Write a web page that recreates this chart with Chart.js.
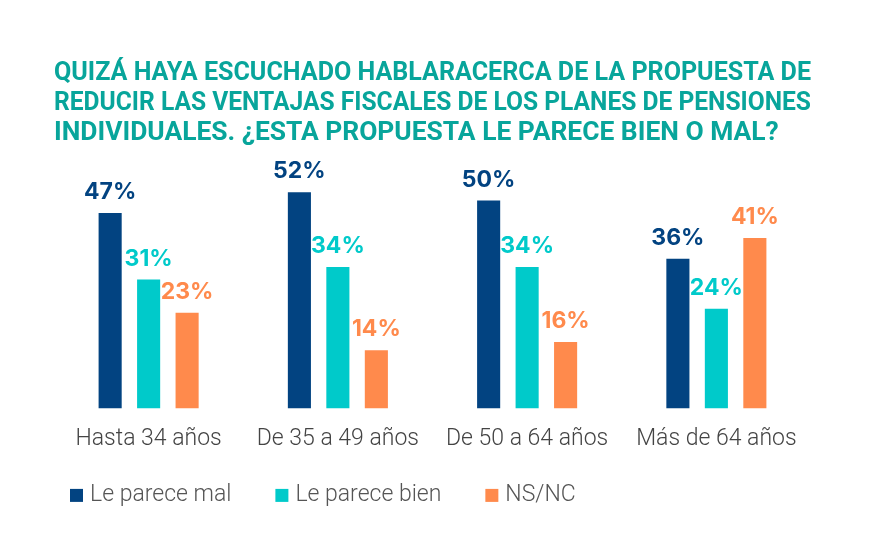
<!DOCTYPE html>
<html><head><meta charset="utf-8">
<script src="https://cdn.jsdelivr.net/npm/chart.js@4/dist/chart.umd.min.js"></script>
<style>html,body{margin:0;padding:0;background:#fff}#wrap{width:883px;height:554px}</style>
</head><body><div id="wrap"><canvas id="c"></canvas></div>
<script>
const titleLines = [
  "QUIZÁ HAYA ESCUCHADO HABLARACERCA DE LA PROPUESTA DE",
  "REDUCIR LAS VENTAJAS FISCALES DE LOS PLANES DE PENSIONES",
  "INDIVIDUALES. ¿ESTA PROPUESTA LE PARECE BIEN O MAL?"
];
const categories = ["Hasta 34 años", "De 35 a 49 años", "De 50 a 64 años", "Más de 64 años"];
const seriesNames = ["Le parece mal", "Le parece bien", "NS/NC"];
const parecemal = [47, 52, 50, 36];
const parecebien = [31, 34, 34, 24];
const nsnc = [23, 14, 16, 41];
const colors = ["#024381", "#00CACA", "#FF8A4C"];

const labelPlugin = {
  id: 'barLabels',
  afterDatasetsDraw(chart) {
    const ctx = chart.ctx;
    ctx.save();
    ctx.font = "700 23px Inter, 'Open Sans', sans-serif";
    ctx.textAlign = 'center';
    ctx.textBaseline = 'alphabetic';
    chart.data.datasets.forEach((ds, i) => {
      const meta = chart.getDatasetMeta(i);
      ctx.fillStyle = colors[i];
      meta.data.forEach((bar, j) => {
        ctx.fillText(ds.data[j] + '%', bar.x, bar.y - 14);
      });
    });
    ctx.restore();
  }
};

// Custom legend drawn below the axis labels
const legendPlugin = {
  id: 'customLegend',
  afterDraw(chart) {
    const ctx = chart.ctx;
    ctx.save();
    ctx.font = "300 23px Roboto, sans-serif";
    ctx.textBaseline = 'middle';
    ctx.textAlign = 'left';
    let x = chart.chartArea.left + 16;
    const y = chart.chartArea.bottom + 87;
    const box = 13;
    chart.data.datasets.forEach((ds, i) => {
      ctx.fillStyle = ds.backgroundColor;
      ctx.fillRect(x, y - box / 2, box, box);
      x += box + 7;
      ctx.fillStyle = '#555';
      ctx.fillText(ds.label, x, y);
      x += ctx.measureText(ds.label).width + 44;
    });
    ctx.restore();
  }
};

new Chart(document.getElementById('c'), {
  type: 'bar',
  data: {
    labels: categories,
    datasets: [
      { label: seriesNames[0], data: parecemal, backgroundColor: colors[0] },
      { label: seriesNames[1], data: parecebien, backgroundColor: colors[1] },
      { label: seriesNames[2], data: nsnc, backgroundColor: colors[2] }
    ]
  },
  options: {
    responsive: true, maintainAspectRatio: false, animation: false,
    layout: { padding: { left: 54, right: 72, top: 58, bottom: 84 } },
    datasets: { bar: { categoryPercentage: 0.61, barPercentage: 0.6 } },
    scales: {
      x: { grid: { display: false, drawTicks: false }, border: { display: false },
           ticks: { color: '#444', font: { size: 23, family: "Roboto, sans-serif", weight: 300 }, padding: 17 } },
      y: { display: false, min: 0, max: 60 }
    },
    plugins: {
      title: { display: true, text: titleLines, align: 'start', color: '#08A59B',
               font: { size: 26.4, weight: 'bold', family: "Roboto, sans-serif", lineHeight: '30px' },
               padding: { top: 0, bottom: 11 } },
      legend: { display: false },
      tooltip: { enabled: false }
    }
  },
  plugins: [labelPlugin, legendPlugin]
});
</script></body></html>
